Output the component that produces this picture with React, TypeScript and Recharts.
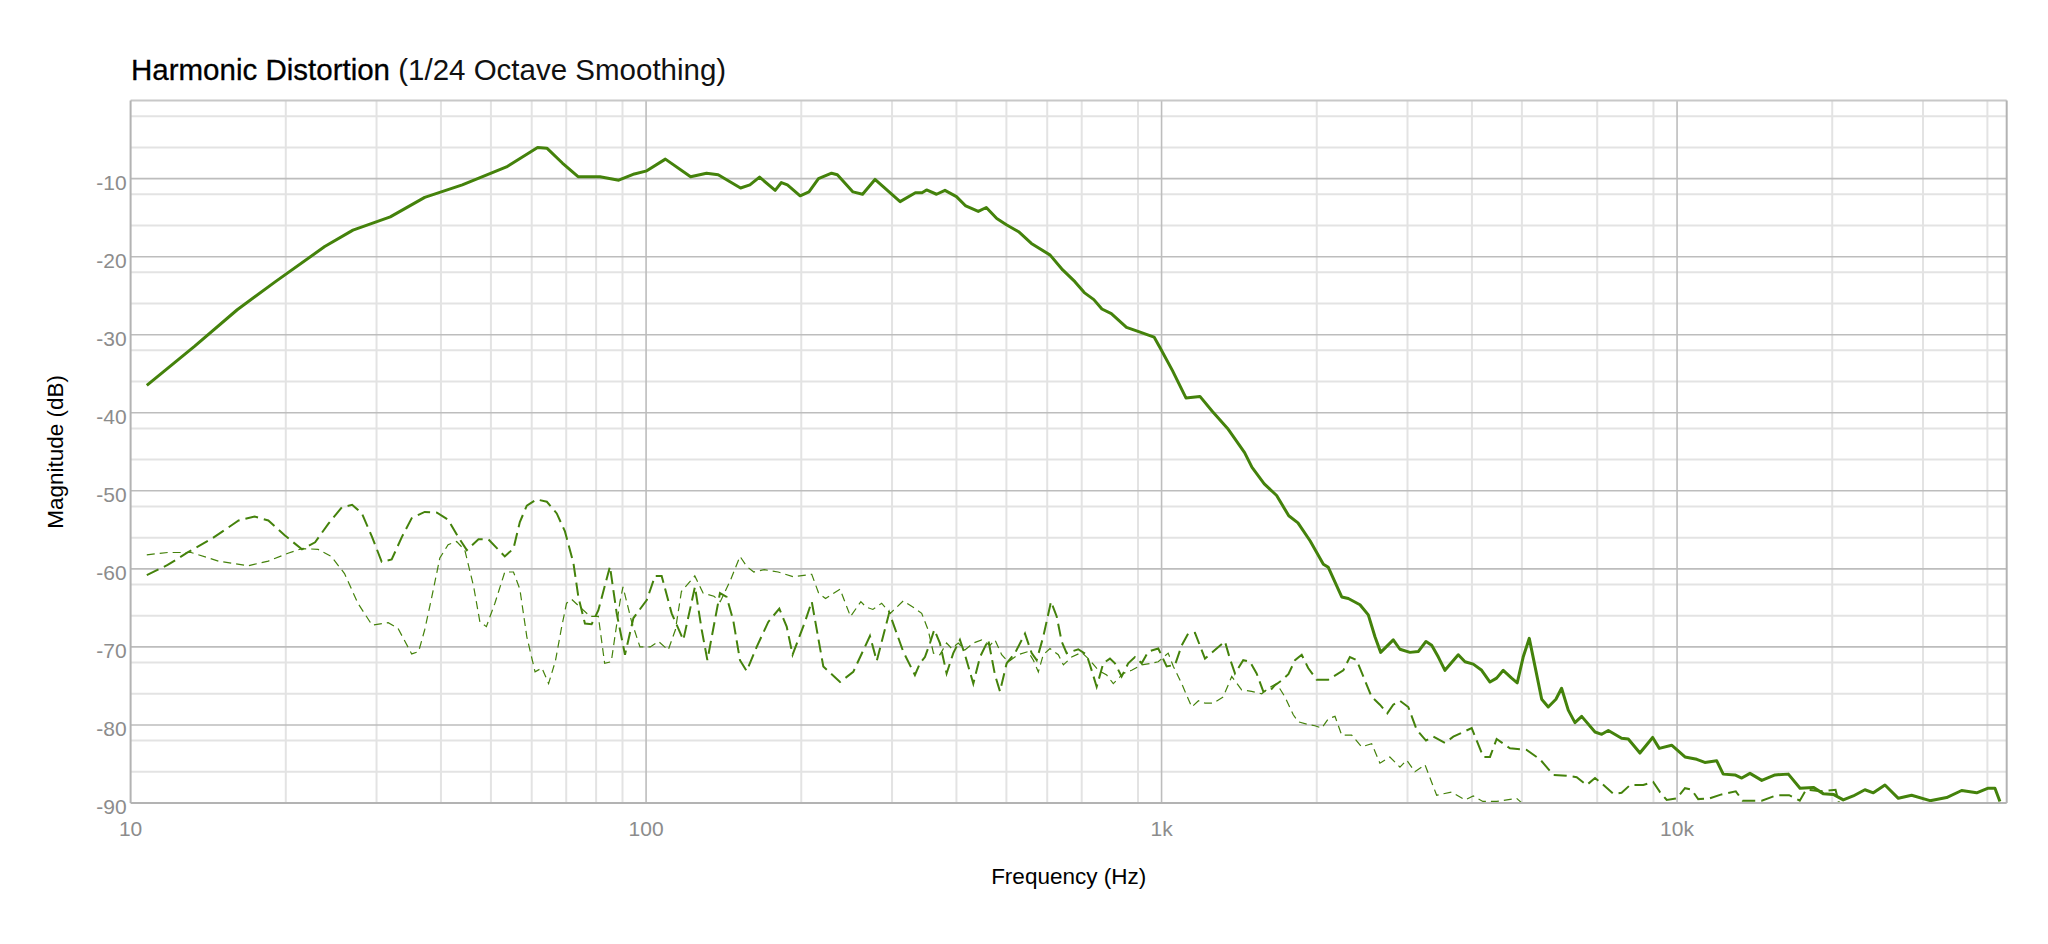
import React from "react";
import {
  LineChart,
  Line,
  XAxis,
  YAxis,
  CartesianGrid,
  ReferenceLine,
  Label,
} from "recharts";

type Pt = [number, number];

// [frequency Hz, level dB]
const FUNDAMENTAL: Pt[] = [
  [10.75, -36.5], [13.3, -31.5], [16.1, -26.8], [19.1, -23.2], [23.8, -18.7], [27, -16.6],
  [31.9, -14.9], [37.2, -12.4], [44, -10.8], [53.6, -8.5], [61.6, -6.0], [64.2, -6.1],
  [68.8, -8.0], [73.8, -9.75], [81.4, -9.75], [88.5, -10.2], [94.9, -9.4], [100.3, -9.0],
  [109, -7.5], [122, -9.75], [131, -9.3], [138, -9.5], [152.5, -11.2], [159, -10.8],
  [166, -9.8], [178, -11.5], [183, -10.5], [188, -10.8], [199, -12.2], [207, -11.7],
  [216, -10.0], [229, -9.3], [235, -9.5], [252, -11.7], [263, -12.0], [278, -10.1],
  [311, -12.95], [333, -11.8], [343, -11.8], [350, -11.45], [366, -12.0], [380, -11.5],
  [400, -12.3], [417, -13.5], [441, -14.2], [457, -13.7], [479, -15.1], [500, -15.9],
  [528, -16.8], [559, -18.3], [608, -19.8], [643, -21.7], [679, -23.2], [708, -24.6],
  [739, -25.5], [766, -26.7], [799, -27.3], [855, -29.05], [903, -29.6], [967, -30.3],
  [994, -31.7], [1050, -34.6], [1115, -38.1], [1187, -37.9], [1254, -39.8], [1343, -42.0],
  [1449, -45.1], [1498, -47.0], [1582, -49.1], [1672, -50.6], [1765, -53.2], [1839, -54.1],
  [1941, -56.4], [2060, -59.4], [2106, -59.8], [2236, -63.6], [2303, -63.8], [2426, -64.6],
  [2518, -65.9], [2594, -68.7], [2661, -70.7], [2815, -69.1], [2900, -70.3], [3033, -70.7],
  [3147, -70.6], [3258, -69.3], [3342, -69.8], [3443, -71.3], [3546, -73.0], [3763, -71.0],
  [3878, -71.9], [4024, -72.2], [4178, -73.0], [4336, -74.5], [4467, -74.0], [4601, -73.0],
  [4776, -74.0], [4897, -74.6], [5029, -71.3], [5168, -68.9], [5302, -72.5], [5463, -76.7],
  [5625, -77.7], [5821, -76.7], [5970, -75.3], [6151, -78.1], [6338, -79.7], [6531, -78.9],
  [6932, -80.9], [7142, -81.2], [7356, -80.7], [7806, -81.7], [8042, -81.8], [8472, -83.6],
  [8967, -81.6], [9237, -83.0], [9761, -82.6], [10360, -84.1], [10920, -84.4], [11320, -84.8],
  [11940, -84.6], [12290, -86.3], [12950, -86.4], [13350, -86.8], [13850, -86.2], [14600, -87.1],
  [15490, -86.4], [16440, -86.3], [17320, -88.1], [18380, -88.0], [19210, -88.8], [20100, -88.9],
  [21010, -89.6], [21970, -89.1], [23140, -88.3], [24030, -88.7], [25310, -87.7], [26870, -89.4],
  [28510, -89.0], [30950, -89.7], [33340, -89.3], [35650, -88.4], [38130, -88.7], [40140, -88.1],
  [41370, -88.1], [42300, -89.8],
];

// 2nd harmonic
const SECOND: Pt[] = [
  [10.75, -60.8], [11.8, -59.5], [12.9, -57.9], [14.4, -56.1], [16.2, -53.8], [17.4, -53.3],
  [18.5, -53.8], [19.9, -55.7], [21.5, -57.5], [22.8, -56.6], [24.2, -54.2], [25.7, -52.1],
  [26.9, -51.8], [28.1, -52.9], [29.4, -55.9], [30.7, -59.1], [32.1, -58.8], [33.6, -55.9],
  [35.1, -53.5], [37.2, -52.7], [39.3, -52.8], [41.3, -53.7], [43.2, -55.9], [44.9, -57.6],
  [47.3, -56.2], [49.4, -56.2], [53.2, -58.4], [55.3, -57.4], [56.9, -54.0], [58.7, -51.9],
  [61.3, -51.1], [64.2, -51.4], [67.1, -52.9], [69.6, -55.2], [72.3, -59.3], [73.9, -63.6],
  [76.1, -67.0], [78.4, -67.1], [80.8, -65.3], [85.1, -59.7], [87.7, -65.7], [91.0, -71.0],
  [94.5, -66.3], [100.3, -64.0], [104.1, -60.9], [107.2, -60.9], [112.1, -65.7], [118.1, -69.1],
  [124.4, -62.3], [128.2, -67.8], [131.5, -71.7], [139.1, -63.1], [143.3, -63.6], [147.6, -66.6],
  [152.1, -71.7], [156.7, -73.1], [163.9, -70.0], [172.6, -66.8], [181.3, -65.1], [187.4, -67.4],
  [192.4, -71.0], [203.3, -66.8], [209.6, -64.2], [220.7, -72.5], [237.8, -74.5], [252.3, -73.2],
  [271.8, -68.6], [280.2, -71.8], [296.3, -65.6], [315.4, -70.6], [332.3, -73.6], [339.9, -72.1],
  [347.5, -71.3], [355.4, -69.5], [362.3, -67.8], [371.5, -69.5], [382.8, -73.4], [394.4, -70.8],
  [406.3, -69.1], [415.5, -71.0], [431.3, -74.7], [444.4, -71.3], [461.2, -69.1], [475.2, -73.6],
  [485.9, -75.7], [500.6, -72.1], [519.5, -70.8], [543.3, -68.3], [559.8, -70.8], [572.4, -71.7],
  [589.5, -68.7], [610.3, -64.2], [626, -66.1], [640, -69.3], [654.5, -70.8], [689.3, -70.3],
  [715.6, -71.0], [731.8, -73.0], [748.3, -75.1], [770.8, -72.1], [794.1, -71.5], [812, -72.1],
  [836.6, -73.8], [861.6, -72.1], [888, -71.3], [915, -72.1], [942.4, -70.6], [985.4, -70.2],
  [1023, -72.5], [1062, -72.3], [1094, -69.8], [1126, -68.3], [1161, -68.2], [1214, -71.5],
  [1269, -70.4], [1327, -69.3], [1357, -71.5], [1388, -73.4], [1440, -71.7], [1484, -71.9],
  [1529, -73.4], [1575, -75.7], [1623, -75.6], [1660, -74.9], [1710, -74.3], [1762, -73.5],
  [1815, -71.7], [1870, -71.0], [1925, -72.7], [1999, -74.2], [2106, -74.2], [2252, -73.0],
  [2319, -71.3], [2390, -71.7], [2556, -76.4], [2652, -77.4], [2741, -78.5], [2815, -77.4],
  [2900, -76.9], [3010, -77.7], [3125, -80.6], [3258, -82.0], [3366, -81.5], [3546, -82.3],
  [3681, -81.5], [3996, -80.4], [4209, -84.1], [4336, -84.1], [4467, -81.8], [4741, -83.0],
  [5108, -83.2], [5421, -84.4], [5753, -86.4], [6107, -86.5], [6387, -86.7], [6678, -87.7],
  [6932, -86.8], [7142, -87.5], [7521, -88.8], [7806, -88.7], [8106, -87.7], [8600, -87.7],
  [8988, -87.3], [9267, -88.6], [9548, -89.6], [9984, -89.4], [10360, -88.1], [10670, -88.3],
  [10990, -89.5], [11580, -89.4], [12200, -88.9], [13000, -88.5], [13400, -89.7], [14600, -89.7],
  [15600, -89.0], [16500, -89.0], [17300, -89.7], [17800, -88.3], [19000, -88.5], [20300, -88.3],
  [20700, -90.5], [22000, -91.5], [26000, -92], [32000, -92], [43000, -92],
];

// 3rd harmonic
const THIRD: Pt[] = [
  [10.75, -58.2], [11.8, -57.9], [13.1, -57.9], [14.8, -59.0], [16.9, -59.6], [18.5, -59.0],
  [20.2, -58.0], [21.5, -57.4], [23.1, -57.5], [24.5, -58.4], [26.0, -60.6], [27.6, -64.4],
  [29.4, -67.2], [31.6, -66.9], [33.0, -67.6], [35.1, -70.9], [36.2, -70.6], [37.2, -67.8],
  [38.4, -63.6], [39.8, -58.6], [41.3, -56.9], [42.9, -56.5], [44.5, -57.6], [46.3, -62.3],
  [47.6, -66.8], [49.0, -67.4], [50.9, -64.4], [53.2, -60.4], [55.3, -60.4], [56.9, -62.6],
  [58.7, -68.7], [60.9, -73.2], [62.8, -72.7], [64.7, -74.7], [66.7, -71.8], [68.6, -67.4],
  [70.1, -64.4], [71.7, -63.9], [75.0, -65.1], [77.9, -66.1], [80.8, -66.1], [83.1, -72.1],
  [85.6, -71.9], [89.0, -64.2], [90.2, -62.3], [93.6, -66.6], [97.3, -70.0], [101.9, -70.0],
  [105.7, -69.3], [110.4, -70.4], [114.0, -67.8], [117.1, -62.9], [124.3, -60.9], [129.0, -63.1],
  [135.4, -63.5], [139.3, -64.2], [145.9, -61.4], [152.1, -58.4], [156.8, -59.7], [161.8, -60.4],
  [169.5, -60.1], [180.4, -60.4], [192.7, -61.0], [209.6, -60.7], [216.1, -63.1], [222.9, -63.8],
  [237.8, -62.6], [249.2, -66.1], [261, -64.2], [267.2, -64.9], [275.4, -65.2], [286.4, -64.4],
  [297.6, -65.7], [315.5, -64.1], [332.7, -65.1], [342.5, -65.7], [352.4, -67.8], [361, -70.8],
  [371.5, -71.0], [382.8, -69.5], [391.6, -70.2], [403.3, -69.5], [415.5, -70.4], [431.3, -69.5],
  [447.8, -69.1], [464.5, -69.8], [475.2, -69.1], [489.5, -71.0], [504, -71.9], [527, -71.0],
  [551, -70.6], [564, -71.7], [576.7, -73.2], [589.5, -71.0], [607.5, -70.2], [630.5, -71.0],
  [645, -72.3], [669.3, -71.3], [699.8, -70.7], [726.2, -71.7], [754, -73.0], [782.6, -73.6],
  [806, -74.7], [843, -73.4], [875, -73.0], [915, -72.3], [957, -72.1], [985, -71.9],
  [1030, -70.8], [1054, -72.5], [1094, -74.7], [1144, -77.7], [1179, -76.9], [1214, -77.2],
  [1260, -77.2], [1317, -76.4], [1368, -73.8], [1430, -75.5], [1495, -75.7], [1564, -76.0],
  [1611, -75.3], [1672, -74.7], [1735, -76.4], [1801, -78.7], [1842, -79.6], [1912, -79.9],
  [1984, -80.1], [2045, -80.4], [2106, -79.2], [2170, -78.9], [2236, -81.3], [2338, -81.3],
  [2444, -82.8], [2556, -82.4], [2652, -84.9], [2773, -84.1], [2900, -85.4], [2989, -84.5],
  [3101, -86.0], [3243, -85.1], [3417, -89.0], [3655, -88.6], [3878, -89.6], [4024, -89.1],
  [4200, -89.8], [4467, -89.8], [4883, -89.4], [5200, -91], [6000, -92], [43000, -92],
];

const X_TICKS = [10, 100, 1000, 10000];
const Y_TICKS = [-90, -80, -70, -60, -50, -40, -30, -20, -10];
const F_MIN = 10;
const F_MAX = 43600;

const FONT = '"Liberation Sans", Arial, Helvetica, sans-serif';
const GREEN = "#44820b";

// grid positions: decades get a darker line, 2..9 multiples a light one
const DECADES = [100, 1000, 10000];
const F_MINOR = [10, 100, 1000, 10000]
  .flatMap((d) => [2, 3, 4, 5, 6, 7, 8, 9].map((m) => d * m))
  .filter((f) => f < F_MAX);
const DB_MAJOR = [-80, -70, -60, -50, -40, -30, -20, -10];
const DB_MINOR: number[] = [];
for (let v = -88; v < 0; v += 2) if (v % 10 !== 0) DB_MINOR.push(v);

const toRows = (pts: Pt[]) => pts.map(([f, db]) => ({ f, db }));

const fmtFreq = (v: number) => (v >= 1000 ? `${v / 1000}k` : `${v}`);

const XTick = (props: any) => {
  const { x, y, payload } = props;
  return (
    <text x={x} y={y + 33} textAnchor="middle" fontSize={21} fill="#8c8c8c" fontFamily={FONT}>
      {fmtFreq(payload.value)}
    </text>
  );
};

const YTick = (props: any) => {
  const { x, y, payload } = props;
  return (
    <text x={x} y={y + 11} textAnchor="end" fontSize={21} fill="#8c8c8c" fontFamily={FONT}>
      {payload.value}
    </text>
  );
};

export default function App() {
  return (
    <div style={{ position: "relative", width: 2032, height: 920, fontFamily: FONT }}>
      <div
        style={{
          position: "absolute",
          left: 123,
          top: 47,
          fontSize: 29.5,
          lineHeight: "29.5px",
          whiteSpace: "nowrap",
          color: "#000",
        }}
      >
        <span style={{ WebkitTextStroke: "0.3px #000" }}>Harmonic Distortion</span>{" "}
        <span style={{ color: "#111" }}>(1/24 Octave Smoothing)</span>
      </div>
      <LineChart
        width={2032}
        height={920}
        margin={{ top: 92.6, right: 33.3, bottom: 85, left: 62.6 }}
      >
        <CartesianGrid
          horizontalValues={DB_MINOR}
          verticalValues={F_MINOR}
          stroke="#e3e3e3"
          strokeWidth={2}
        />
        <CartesianGrid
          horizontalValues={DB_MAJOR}
          verticalValues={DECADES}
          stroke="#bdbdbd"
          strokeWidth={1.6}
        />
        <XAxis
          dataKey="f"
          type="number"
          scale="log"
          domain={[F_MIN, F_MAX]}
          allowDataOverflow
          ticks={X_TICKS}
          tick={<XTick />}
          tickLine={false}
          tickSize={0}
          tickMargin={0}
          height={40}
          axisLine={{ stroke: "#b3b3b3", strokeWidth: 2 }}
        >
          <Label
            content={(p: any) => {
              const vb = p.viewBox;
              return (
                <text
                  x={vb.x + vb.width / 2}
                  y={vb.y + 81}
                  textAnchor="middle"
                  fontSize={22.5}
                  fill="#000"
                  fontFamily={FONT}
                >
                  Frequency (Hz)
                </text>
              );
            }}
          />
        </XAxis>
        <YAxis
          type="number"
          domain={[-90, 0]}
          allowDataOverflow
          ticks={Y_TICKS}
          tick={<YTick />}
          tickLine={false}
          tickSize={0}
          tickMargin={4}
          width={60}
          axisLine={{ stroke: "#b3b3b3", strokeWidth: 2 }}
        >
          <Label
            content={(p: any) => {
              const vb = p.viewBox;
              const cx = 55;
              const cy = vb.y + vb.height / 2;
              return (
                <text
                  x={cx}
                  y={cy}
                  transform={`rotate(-90, ${cx}, ${cy})`}
                  textAnchor="middle"
                  fontSize={22.5}
                  fill="#000"
                  fontFamily={FONT}
                >
                  Magnitude (dB)
                </text>
              );
            }}
          />
        </YAxis>
        <ReferenceLine y={0} stroke="#c8c8c8" strokeWidth={2} />
        <ReferenceLine x={F_MAX} stroke="#b3b3b3" strokeWidth={2} />
        <Line
          data={toRows(THIRD)}
          dataKey="db"
          type="linear"
          stroke={GREEN}
          strokeWidth={1.2}
          strokeDasharray="8 5"
          dot={false}
          activeDot={false}
          isAnimationActive={false}
        />
        <Line
          data={toRows(SECOND)}
          dataKey="db"
          type="linear"
          stroke={GREEN}
          strokeWidth={2}
          strokeDasharray="13 6"
          dot={false}
          activeDot={false}
          isAnimationActive={false}
        />
        <Line
          data={toRows(FUNDAMENTAL)}
          dataKey="db"
          type="linear"
          stroke={GREEN}
          strokeWidth={3}
          strokeLinejoin="round"
          dot={false}
          activeDot={false}
          isAnimationActive={false}
        />
      </LineChart>
    </div>
  );
}
